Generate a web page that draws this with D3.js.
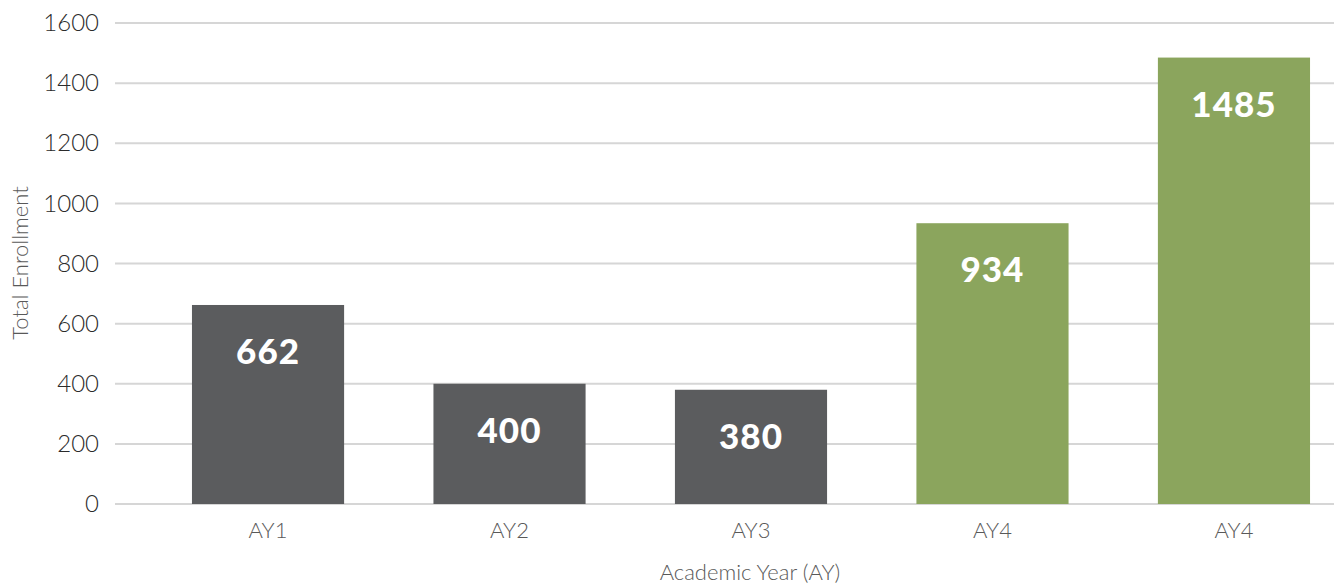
<!DOCTYPE html>
<html><head><meta charset="utf-8">
<script src="https://cdn.jsdelivr.net/npm/d3@7/dist/d3.min.js"></script>
<style>
html,body{margin:0;padding:0;background:#fff;}
svg{display:block;font-family:Lato,"Open Sans",sans-serif;}
</style></head>
<body><svg id="c" width="1334" height="586"></svg>
<script>
const categories = ["AY1","AY2","AY3","AY4","AY4"];
const values = [662, 400, 380, 934, 1485];
const barGroup = ["past","past","past","new","new"];
const yTicks = [0,200,400,600,800,1000,1200,1400,1600];
const colors = {past:"#5b5c5e", new:"#8ba55d"};

const svg = d3.select("#c");
const plotLeft = 115, plotRight = 1334, plotTop = 23, plotBottom = 504;

const x = d3.scaleBand().domain(d3.range(categories.length))
  .range([113, 1389]).paddingInner(0.37).paddingOuter(0.327);
const y = d3.scaleLinear().domain([0,1600]).range([plotBottom, plotTop]);

// gridlines
svg.append("g").selectAll("line").data(yTicks).join("line")
  .attr("x1", plotLeft).attr("x2", plotRight)
  .attr("y1", d=>y(d)).attr("y2", d=>y(d))
  .attr("stroke", "#d6d6d6").attr("stroke-width", 2);

// y axis
const ya = svg.append("g").attr("transform", `translate(${plotLeft},0)`)
  .call(d3.axisLeft(y).tickValues(yTicks).tickFormat(d3.format("d")).tickSize(0).tickPadding(16));
ya.select(".domain").remove();
ya.selectAll("text").attr("font-size", 24).attr("font-weight", 300)
  .attr("fill", "#2b2b2b").attr("font-family", "Lato, sans-serif");

// bars
svg.append("g").selectAll("rect").data(values).join("rect")
  .attr("x", (d,i)=>x(i)).attr("width", x.bandwidth())
  .attr("y", d=>y(d)).attr("height", d=>y(0)-y(d))
  .attr("fill", (d,i)=>colors[barGroup[i]]);

// value labels
svg.append("g").selectAll("text").data(values).join("text")
  .attr("x", (d,i)=>x(i)+x.bandwidth()/2)
  .attr("y", d=>y(d)+45)
  .attr("text-anchor","middle").attr("dominant-baseline","central")
  .attr("fill","#fff").attr("font-size", 35).attr("font-weight", 900)
  .attr("letter-spacing", 1)
  .text(d=>d);

// x axis
const xa = svg.append("g").attr("transform", `translate(0,${plotBottom})`)
  .call(d3.axisBottom(x).tickFormat(i=>categories[i]).tickSize(0).tickPadding(18));
xa.select(".domain").remove();
xa.selectAll("text").attr("font-size", 22).attr("font-weight", 300)
  .attr("fill", "#595959").attr("font-family", "Lato, sans-serif");

// axis titles
svg.append("text").attr("x", 750).attr("y", 580).attr("text-anchor","middle")
  .attr("font-size", 22).attr("font-weight", 300).attr("fill","#595959")
  .text("Academic Year (AY)");
svg.append("text").attr("transform","translate(28,263) rotate(-90)")
  .attr("text-anchor","middle")
  .attr("font-size", 22).attr("font-weight", 300).attr("fill","#595959")
  .text("Total Enrollment");
</script></body></html>
